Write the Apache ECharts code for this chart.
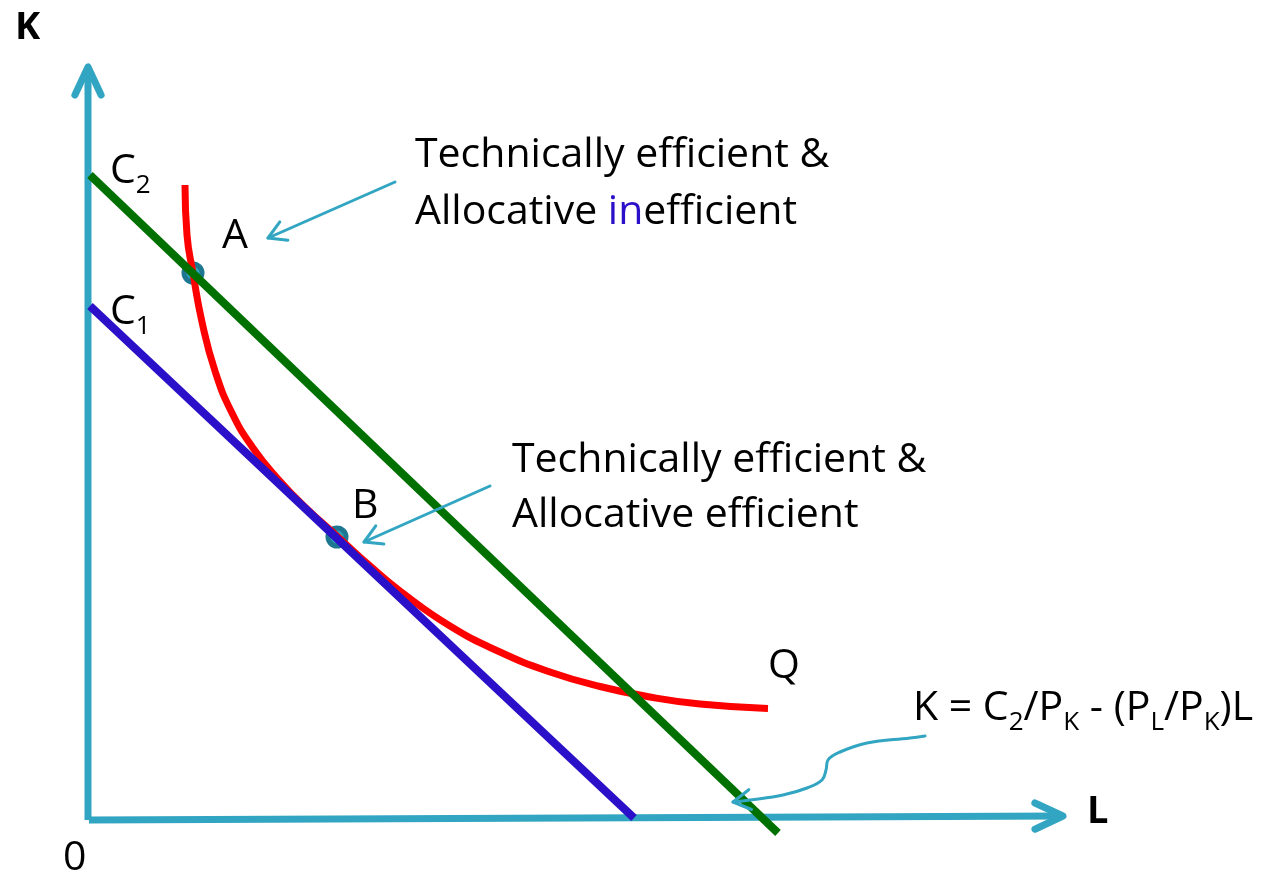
<!DOCTYPE html>
<html>
<head>
<meta charset="utf-8">
<script src="https://cdn.jsdelivr.net/npm/echarts@6/dist/echarts.min.js"></script>
<style>
html,body{margin:0;padding:0;background:#fff;}
#chart{width:1270px;height:876px;}
</style>
</head>
<body>
<div id="chart"></div>
<script>
// ---- data (L on x, K on y; 1 unit = 100 px in both directions) ----
const kAxisLine = [[0, 0], [0, 7.53]];
const lAxisLine = [[0.01, 0], [9.75, 0.04]];
const c2Budget = [[0.02, 6.45], [6.90, -0.13]];
const c1Budget = [[0.02, 5.14], [5.46, 0.02]];
const isoquantQ = [
  [0.97, 6.35], [0.99, 5.85], [1.05, 5.47], [1.14, 4.98], [1.27, 4.49],
  [1.44, 4.07], [1.65, 3.72], [1.90, 3.41], [2.18, 3.12], [2.49, 2.84],
  [2.82, 2.54], [3.12, 2.29], [3.62, 1.94], [4.12, 1.68], [4.62, 1.48],
  [5.12, 1.335], [5.62, 1.23], [6.12, 1.16], [6.80, 1.115]
];
const pointA = [1.05, 5.47];
const pointB = [2.49, 2.83];
const arrowToA = [[3.07, 6.38], [1.80, 5.82]];
const arrowToB = [[4.02, 3.34], [2.76, 2.78]];
const arrowToC2 = [[8.37, 0.84], [8.22, 0.82], [7.79, 0.77], [7.52, 0.68], [7.40, 0.60], [7.38, 0.50],
  [7.34, 0.40], [7.19, 0.32], [6.95, 0.25], [6.62, 0.20], [6.45, 0.18]];

function head(tip, from, len, deg) {
  const dx = from[0] - tip[0], dy = from[1] - tip[1];
  const d = Math.hypot(dx, dy), ux = dx / d, uy = dy / d;
  const a = deg * Math.PI / 180, c = Math.cos(a), s = Math.sin(a);
  return [
    [tip[0] + len * (ux * c - uy * s), tip[1] + len * (ux * s + uy * c)],
    tip,
    [tip[0] + len * (ux * c + uy * s), tip[1] + len * (-ux * s + uy * c)]
  ];
}

const TEAL = '#31a5c1';
const FONT = '"Open Sans"';
function lineSeries(data, color, width, extra) {
  const base = {
    type: 'line', data: data, symbol: 'none', silent: true, clip: false,
    lineStyle: { color: color, width: width, cap: 'round', join: 'round' }
  };
  if (extra && extra.cap) { base.lineStyle.cap = extra.cap; delete extra.cap; }
  return Object.assign(base, extra || {});
}

const chart = echarts.init(document.getElementById('chart'));
const SZ = 41;
const subStyle = { fontSize: 26, fontFamily: FONT, fill: '#000', color: '#000', padding: [30, 0, 0, 0] };
function txt(x, y, text, opts) {
  opts = opts || {};
  const size = opts.size || SZ;
  return {
    type: 'text', x: x, y: y, silent: true,
    style: {
      text: text, fontSize: size, fontFamily: FONT, fontWeight: opts.weight || 'normal',
      fill: '#000', textAlign: 'left', textVerticalAlign: 'middle', align: 'left', verticalAlign: 'middle',
      rich: {
        s: subStyle,
        b: { fontSize: size, fontFamily: FONT, fill: '#2a10c8', color: '#2a10c8' },
        n: { fontSize: size, fontFamily: FONT, fill: '#000', color: '#000' }
      }
    }
  };
}

chart.setOption({
  animation: false,
  backgroundColor: '#fff',
  grid: { left: 38, top: 20, width: 1050, height: 850 },
  xAxis: { type: 'value', min: -0.5, max: 10, show: false },
  yAxis: { type: 'value', min: -0.5, max: 8, show: false },
  series: [
    lineSeries(kAxisLine, TEAL, 7, { cap: 'butt' }),
    lineSeries(lAxisLine, TEAL, 7, { cap: 'butt' }),
    lineSeries(head(kAxisLine[1], kAxisLine[0], 0.31, 25), TEAL, 7),
    lineSeries(head(lAxisLine[1], lAxisLine[0], 0.31, 25), TEAL, 7),
    lineSeries(isoquantQ, '#ff0000', 7, { cap: 'butt', smooth: true }),
    lineSeries(c1Budget, '#2a10c8', 8, { cap: 'butt' }),
    lineSeries(c2Budget, '#007000', 8, { cap: 'butt' }),
    lineSeries(arrowToA, TEAL, 3),
    lineSeries(head(arrowToA[1], arrowToA[0], 0.2, 30), TEAL, 3),
    lineSeries(arrowToB, TEAL, 3),
    lineSeries(head(arrowToB[1], arrowToB[0], 0.2, 30), TEAL, 3),
    lineSeries(arrowToC2, TEAL, 3, { smooth: 0.4 }),
    lineSeries(head(arrowToC2[arrowToC2.length - 1], arrowToC2[arrowToC2.length - 3], 0.2, 30), TEAL, 3),
    {
      type: 'scatter', silent: true, data: [pointA, pointB], symbolSize: 18, clip: false,
      itemStyle: { color: '#2ea6c0', borderColor: '#1e7791', borderWidth: 5, opacity: 1 }
    }
  ],
  graphic: [
    txt(15, 28, 'K', { weight: 'bold', size: 38 }),
    txt(1087, 812, 'L', { weight: 'bold', size: 38 }),
    txt(63, 858, '0'),
    txt(110, 171, '{n|C}{s|2}'),
    txt(222, 236, 'A'),
    txt(110, 312, '{n|C}{s|1}'),
    txt(352, 506, 'B'),
    txt(768, 666, 'Q'),
    txt(415, 155, 'Technically efficient &'),
    txt(415, 212, '{n|Allocative }{b|in}{n|efficient}'),
    txt(512, 460, 'Technically efficient &'),
    txt(512, 515, 'Allocative efficient'),
    txt(913, 708, '{n|K = C}{s|2}{n|/P}{s|K}{n| - (P}{s|L}{n|/P}{s|K}{n|)L}')
  ]
});
</script>
</body>
</html>
